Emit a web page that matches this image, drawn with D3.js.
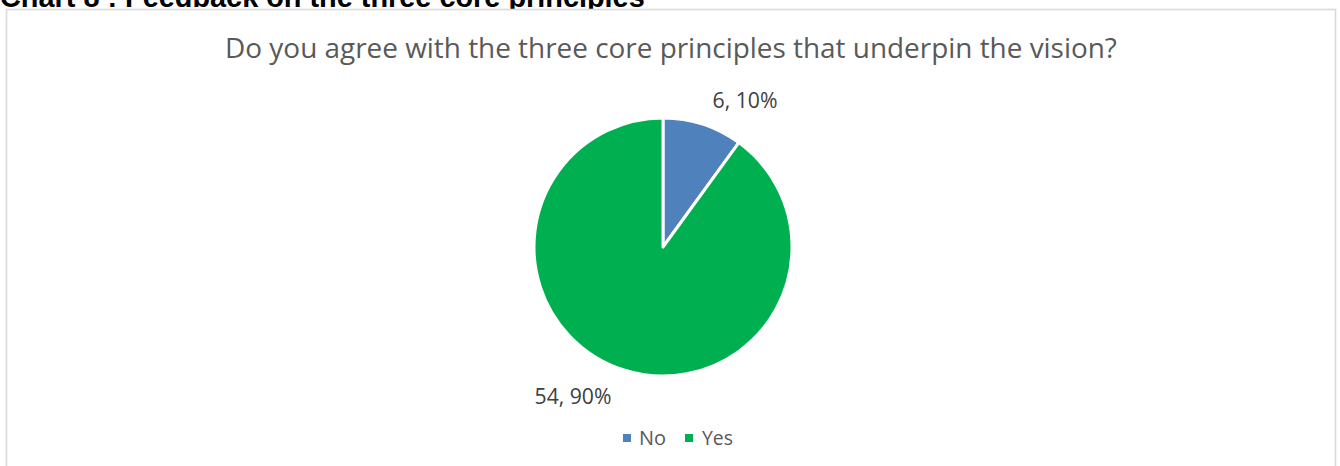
<!DOCTYPE html>
<html>
<head>
<meta charset="utf-8">
<script src="https://cdn.jsdelivr.net/npm/d3@7"></script>
<style>
  html, body { margin: 0; padding: 0; background: #ffffff; }
  svg { display: block; }
</style>
</head>
<body>
<svg id="chart" width="1340" height="466"></svg>
<script>
// Survey responses
const categories = ["No", "Yes"];
const counts = [6, 54];
const colors = ["#4F81BD", "#00B050"];
const headingText = "Chart 8 : Feedback on the three core principles";
const chartTitle = "Do you agree with the three core principles that underpin the vision?";

const W = 1340, H = 466;
const svg = d3.select("#chart");

// Shrink or grow a text element's font size so it spans a given width
function fitWidth(sel, target) {
  const node = sel.node();
  const fs = parseFloat(sel.attr("font-size"));
  const w = node.getComputedTextLength();
  if (w > 0) sel.attr("font-size", (fs * target / w).toFixed(2));
  return sel;
}

// Document heading (runs off the top of the page)
fitWidth(svg.append("text")
  .attr("x", 0).attr("y", 7)
  .attr("font-family", "Liberation Sans, Arial, sans-serif")
  .attr("font-weight", "bold")
  .attr("font-size", 28)
  .attr("fill", "#000")
  .text(headingText), 645);

// Chart frame
svg.append("rect")
  .attr("x", 6.5).attr("y", 9.5)
  .attr("width", 1329).attr("height", 480)
  .attr("fill", "#fff")
  .attr("stroke", "#D9D9D9")
  .attr("stroke-width", 1.6);

// Chart title
fitWidth(svg.append("text")
  .attr("x", 671).attr("y", 58)
  .attr("text-anchor", "middle")
  .attr("font-family", "Open Sans, sans-serif")
  .attr("font-size", 26)
  .attr("fill", "#595959")
  .text(chartTitle), 892);

// Pie
const cx = 663, cy = 247, r = 129;
const data = categories.map((c, i) => ({ cat: c, value: counts[i], color: colors[i] }));
const total = d3.sum(counts);
const pie = d3.pie().value(d => d.value).sort(null);
const arc = d3.arc().innerRadius(0).outerRadius(r);
const arcs = pie(data);

const g = svg.append("g").attr("transform", `translate(${cx},${cy})`);
g.selectAll("path")
  .data(arcs)
  .join("path")
  .attr("d", arc)
  .attr("fill", d => d.data.color)
  .attr("stroke", "#fff")
  .attr("stroke-width", 3)
  .attr("stroke-linejoin", "round");

// Data labels: "count, percent"
const fmtPct = d3.format(".0%");
const labelPos = [
  { x: 745, y: 108, w: 65 },
  { x: 573, y: 404, w: 77 }
];
arcs.forEach((a, i) => {
  fitWidth(svg.append("text")
    .attr("x", labelPos[i].x).attr("y", labelPos[i].y)
    .attr("text-anchor", "middle")
    .attr("font-family", "Open Sans, sans-serif")
    .attr("font-size", 18)
    .attr("fill", "#404040")
    .text(`${a.data.value}, ${fmtPct(a.data.value / total)}`), labelPos[i].w);
});

// Legend
const legendItems = [
  { sx: 623, tx: 639, w: 27 },
  { sx: 685, tx: 702, w: 31 }
];
data.forEach((d, i) => {
  svg.append("rect")
    .attr("x", legendItems[i].sx).attr("y", 434)
    .attr("width", 8).attr("height", 8)
    .attr("fill", d.color);
  fitWidth(svg.append("text")
    .attr("x", legendItems[i].tx).attr("y", 445)
    .attr("font-family", "Open Sans, sans-serif")
    .attr("font-size", 19)
    .attr("fill", "#595959")
    .text(d.cat), legendItems[i].w);
});
</script>
</body>
</html>
